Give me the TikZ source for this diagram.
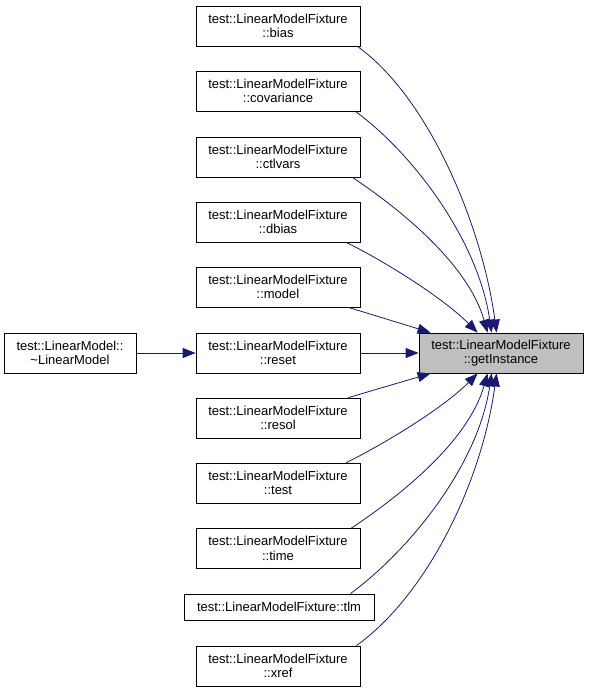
\documentclass[tikz,border=0pt]{standalone}
\usepackage{fontspec}
\setmainfont{Liberation Sans}
\usetikzlibrary{arrows.meta}
\definecolor{edgeblue}{HTML}{191970}
\definecolor{hlgrey}{HTML}{BFBFBF}
\begin{document}
\begin{tikzpicture}[x=1pt,y=1pt,
  fn/.style={draw=black, line width=0.8pt, fill=white, minimum width=164pt,
    minimum height=40pt, inner sep=0pt, align=center,
    font=\fontsize{13}{14.5}\selectfont},
  hl/.style={fn, fill=hlgrey},
  call/.style={draw=edgeblue, line width=0.8pt, -{Triangle[length=13pt,width=10pt]}}]
\useasboundingbox (0,0) rectangle (588,-692);
\node[fn] (bias)  at (278,-26)  {test::LinearModelFixture\\::bias};
\node[fn] (cov)   at (278,-91)  {test::LinearModelFixture\\::covariance};
\node[fn] (ctl)   at (278,-157) {test::LinearModelFixture\\::ctlvars};
\node[fn] (dbias) at (278,-222) {test::LinearModelFixture\\::dbias};
\node[fn] (model) at (278,-287) {test::LinearModelFixture\\::model};
\node[fn] (reset) at (278,-353) {test::LinearModelFixture\\::reset};
\node[fn] (resol) at (278,-418) {test::LinearModelFixture\\::resol};
\node[fn] (test)  at (278,-483) {test::LinearModelFixture\\::test};
\node[fn] (time)  at (278,-548.5) {test::LinearModelFixture\\::time};
\node[fn, minimum width=190pt, minimum height=26pt] (tlm) at (279,-607) {test::LinearModelFixture::tlm};
\node[fn] (xref)  at (278,-666) {test::LinearModelFixture\\::xref};
\node[fn, minimum width=132pt] (dtor) at (70,-353) {test::LinearModel::\\\textasciitilde LinearModel};
\node[hl] (gi) at (501,-353) {test::LinearModelFixture\\::getInstance};

\draw[call] (dtor.east) -- (reset.west);
\draw[call] (reset.east) -- (gi.west);
\draw[call] ([xshift=-3pt]bias.south east) .. controls +(70,-50) and +(-15,110) .. ([xshift=78pt]gi.north west);
\draw[call] ([xshift=-5pt]cov.south east) .. controls +(55,-40) and +(-14,95) .. ([xshift=73pt]gi.north west);
\draw[call] ([xshift=-8pt]ctl.south east) .. controls +(45,-30) and +(-20,70) .. ([xshift=69pt]gi.north west);
\draw[call] ([xshift=-14pt]dbias.south east) .. controls +(40,-20) and +(-35,35) .. ([xshift=59pt]gi.north west);
\draw[call] ([xshift=-12pt]model.south east) -- ([xshift=12pt]gi.north west);
\draw[call] ([xshift=-12pt]resol.north east) -- ([xshift=12pt]gi.south west);
\draw[call] ([xshift=-14pt]test.north east) .. controls +(40,20) and +(-35,-35) .. ([xshift=59pt]gi.south west);
\draw[call] ([xshift=-9pt]time.north east) .. controls +(45,30) and +(-20,-70) .. ([xshift=69pt]gi.south west);
\draw[call] ([xshift=-24pt]tlm.north east) .. controls +(55,40) and +(-14,-95) .. ([xshift=73pt]gi.south west);
\draw[call] ([xshift=-4pt]xref.north east) .. controls +(70,50) and +(-15,-110) .. ([xshift=78pt]gi.south west);
\end{tikzpicture}
\end{document}
